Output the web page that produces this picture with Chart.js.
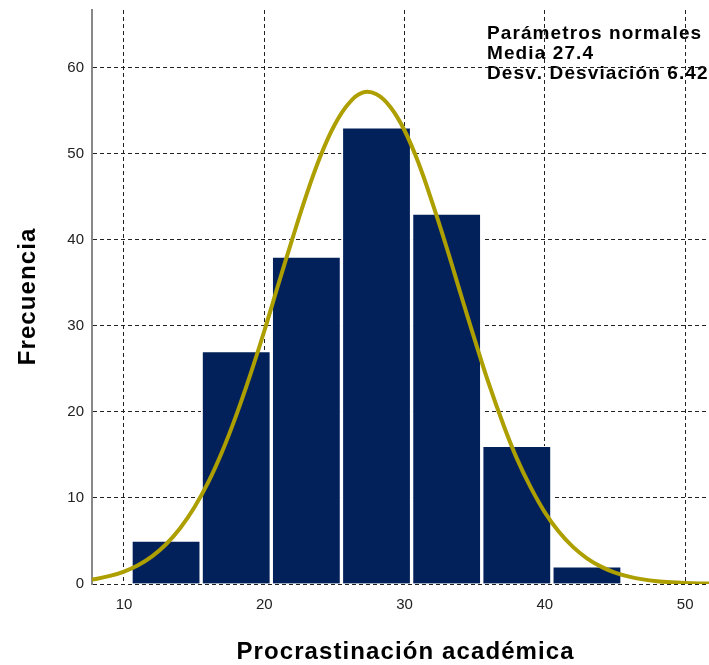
<!DOCTYPE html>
<html>
<head>
<meta charset="utf-8">
<script src="https://cdn.jsdelivr.net/npm/chart.js@4"></script>
<style>
    html, body { margin: 0; padding: 0; background: #ffffff; }
    #wrap { width: 709px; height: 665px; position: relative; }
</style>
</head>
<body>
<div id="wrap"><canvas id="histChart"></canvas></div>
<script>
// Histograma - Procrastinación académica
const binCenters = [13, 18, 23, 28, 33, 38, 43];
const frecuencias = [5, 27, 38, 53, 43, 16, 2];

// curva normal
const curvaX = [7, 8, 9, 10, 11, 12, 13, 14, 15, 16, 17, 18, 19, 20, 21, 22, 23, 24, 25, 26, 27, 28, 29,
    30, 31, 32, 33, 34, 35, 36, 37, 38, 39, 40, 41, 42, 43, 44, 45, 46, 47, 48, 49, 50, 51, 52];
const curvaY = [0.37, 0.59, 0.94, 1.45, 2.19, 3.22, 4.62, 6.48, 8.86, 11.8, 15.4, 19.6, 24.3, 29.4, 34.8,
    40.1, 45.2, 49.7, 53.3, 55.8, 57.1, 56.9, 55.4, 52.7, 48.9, 44.2, 39.1, 33.7, 28.4, 23.3, 18.7, 14.6,
    11.2, 8.33, 6.06, 4.31, 2.99, 2.02, 1.33, 0.86, 0.54, 0.33, 0.2, 0.12, 0.07, 0.04];

const xTicks = [10, 20, 30, 40, 50];
const yTicks = [0, 10, 20, 30, 40, 50, 60];
const parametros = ['Parámetros normales', 'Media 27.4', 'Desv. Desviación 6.427'];

const tituloX = 'Procrastinación académica';
const tituloY = 'Frecuencia';

function spacedWidth(ctx, text, spacing) {
    let w = 0;
    for (const ch of text) w += ctx.measureText(ch).width + spacing;
    return w - spacing;
}

function drawSpaced(ctx, text, x, y, spacing) {
    for (const ch of text) {
        ctx.fillText(ch, x, y);
        x += ctx.measureText(ch).width + spacing;
    }
}

const textosPlugin = {
    id: 'textos',
    beforeDraw(chart) {
        const ctx = chart.ctx;
        ctx.save();
        ctx.fillStyle = '#000000';
        ctx.textBaseline = 'alphabetic';
        ctx.textAlign = 'left';

        // parámetros normales
        ctx.font = 'bold 19px "Liberation Sans", Arial, sans-serif';
        parametros.forEach((t, i) => drawSpaced(ctx, t, 487, 39 + i * 20, 1.1));

        // título eje X
        ctx.font = 'bold 24px "Liberation Sans", Arial, sans-serif';
        let w = spacedWidth(ctx, tituloX, 1.1);
        drawSpaced(ctx, tituloX, 405 - w / 2, 659, 1.1);

        // título eje Y
        ctx.translate(35, 297);
        ctx.rotate(-Math.PI / 2);
        w = spacedWidth(ctx, tituloY, 1.1);
        drawSpaced(ctx, tituloY, -w / 2, 0, 1.1);
        ctx.restore();
    }
};

const ctx = document.getElementById('histChart');
new Chart(ctx.getContext('2d'), {
    type: 'bar',
    data: {
        datasets: [{
            type: 'line',
            data: curvaX.map((x, i) => ({ x: x, y: curvaY[i] })),
            borderColor: '#ad9f00',
            borderWidth: 4,
            pointRadius: 0,
            tension: 0.4,
            fill: false,
            order: 0
        }, {
            type: 'bar',
            data: binCenters.map((c, i) => ({ x: c, y: frecuencias[i] })),
            backgroundColor: '#02215a',
            borderColor: '#ffffff',
            borderWidth: { left: 2, right: 2, top: 1, bottom: 0 },
            borderSkipped: false,
            barPercentage: 1,
            categoryPercentage: 1,
            order: 1
        }]
    },
    options: {
        responsive: true,
        maintainAspectRatio: false,
        animation: false,
        layout: { padding: { top: 10, left: 0, right: 0, bottom: 0 } },
        plugins: {
            legend: { display: false },
            tooltip: { enabled: false }
        },
        scales: {
            x: {
                type: 'linear',
                offset: false,
                min: 7.72,
                max: 51.7,
                afterBuildTicks: (s) => { s.ticks = xTicks.map(v => ({ value: v })); },
                afterFit: (s) => { s.height = 81; s.paddingLeft = 0; s.paddingRight = 0; },
                ticks: {
                    padding: 12,
                    color: '#222222',
                    font: { family: '"Liberation Sans", Arial, sans-serif', size: 15 }
                },
                grid: { offset: false, color: '#222222', lineWidth: 1, drawTicks: false },
                border: { display: false, dash: [4, 3] }
            },
            y: {
                min: 0,
                max: 66.7,
                afterBuildTicks: (s) => { s.ticks = yTicks.map(v => ({ value: v })); },
                afterFit: (s) => { s.width = 92; s.paddingTop = 0; s.paddingBottom = 0; },
                ticks: {
                    padding: 8,
                    color: '#222222',
                    font: { family: '"Liberation Sans", Arial, sans-serif', size: 15 }
                },
                grid: { color: '#222222', lineWidth: 1, drawTicks: false },
                border: { display: true, color: '#888888', width: 2, dash: [4, 3] }
            }
        }
    },
    plugins: [textosPlugin]
});
</script>
</body>
</html>
